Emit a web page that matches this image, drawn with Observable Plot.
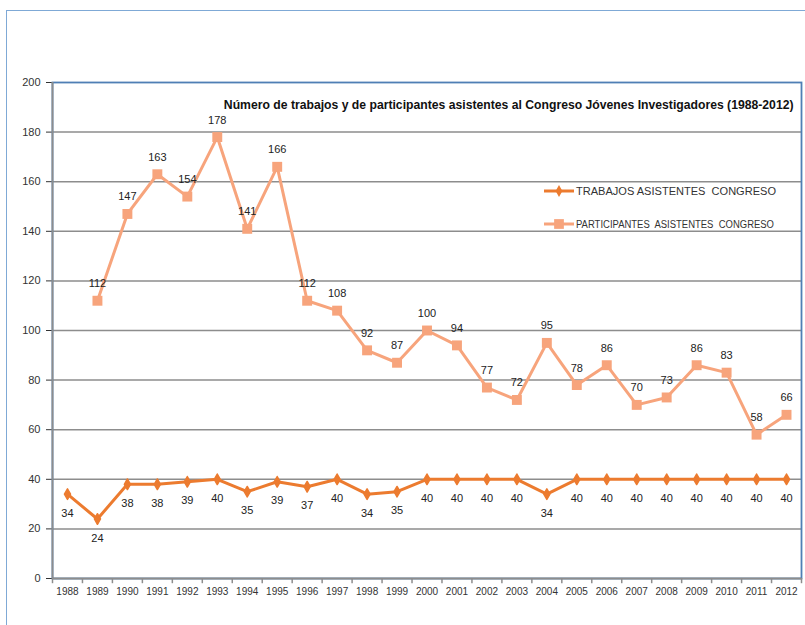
<!DOCTYPE html>
<html>
<head>
<meta charset="utf-8">
<script src="https://cdn.jsdelivr.net/npm/d3@7"></script>
<script src="https://cdn.jsdelivr.net/npm/@observablehq/plot@0.6"></script>
<style>
  html, body { margin: 0; padding: 0; background: #fff; }
  #wrap { position: relative; width: 805px; height: 625px; overflow: hidden; }
  #outer { position: absolute; left: 6px; top: 10px; width: 820px; height: 640px; border: 1.5px solid #7fa9d6; box-sizing: border-box; }
  #chart { position: absolute; left: 0; top: 0; }
  #legend { position: absolute; left: 544px; top: 180px; }
</style>
</head>
<body>
<div id="wrap">
  <div id="outer"></div>
  <div id="chart"></div>
  <div id="legend"></div>
</div>
<script>
const years = [1988, 1989, 1990, 1991, 1992, 1993, 1994, 1995, 1996, 1997, 1998, 1999, 2000,
               2001, 2002, 2003, 2004, 2005, 2006, 2007, 2008, 2009, 2010, 2011, 2012];
const trabajos = [34, 24, 38, 38, 39, 40, 35, 39, 37, 40, 34, 35, 40,
                  40, 40, 40, 34, 40, 40, 40, 40, 40, 40, 40, 40];
const participantes = [null, 112, 147, 163, 154, 178, 141, 166, 112, 108, 92, 87, 100,
                       94, 77, 72, 95, 78, 86, 70, 73, 86, 83, 58, 66];
const yTicks = [0, 20, 40, 60, 80, 100, 120, 140, 160, 180, 200];
const seriesNames = ["TRABAJOS ASISTENTES  CONGRESO", "PARTICIPANTES  ASISTENTES  CONGRESO"];
const title = ["Número de trabajos y de participantes asistentes al Congreso Jóvenes Investigadores (1988-2012)"];

const cTrab = "#ec7b2f";
const cPart = "#f7a47c";
const gridC = "#8d8d8d";

const data = years.map((y, i) => ({year: y, trabajos: trabajos[i], participantes: participantes[i]}));
const boundaries = [years[0] - 0.5, ...years.map(y => y + 0.5)];

const chart = Plot.plot({
  width: 805,
  height: 625,
  marginLeft: 52,
  marginRight: 4,
  marginTop: 82,
  marginBottom: 47,
  style: {fontFamily: "Liberation Sans, Arial, sans-serif", fontSize: "11px", color: "#333", background: "transparent"},
  x: {domain: [years[0] - 0.5, years[years.length - 1] + 0.5], ticks: years, tickFormat: d => String(d), tickSize: 0, tickPadding: 9, label: null},
  y: {domain: [0, 200], ticks: yTicks, tickSize: 6, tickPadding: 6, label: null},
  marks: [
    Plot.ruleY(yTicks.filter(t => t > 0 && t < 200), {stroke: gridC, strokeWidth: 1.5}),
    Plot.frame({stroke: "#4f7fb5", strokeWidth: 1.8}),
    Plot.ruleY([0], {stroke: gridC, strokeWidth: 1.8}),
    Plot.ruleX([boundaries[0]], {stroke: gridC, strokeWidth: 1.8}),
    Plot.ruleX(boundaries, {y1: 0, y2: -2.1, stroke: gridC, strokeWidth: 1.5}),
    Plot.line(data, {x: "year", y: "participantes", stroke: cPart, strokeWidth: 3}),
    Plot.dot(data, {x: "year", y: "participantes", symbol: "square", r: 5.6, fill: cPart}),
    Plot.line(data, {x: "year", y: "trabajos", stroke: cTrab, strokeWidth: 3}),
    Plot.dot(data, {x: "year", y: "trabajos", symbol: "diamond", r: 3.2, fill: cTrab, stroke: cTrab, strokeWidth: 1.5, strokeLinejoin: "round"}),
    Plot.text(data.filter(d => d.participantes != null), {x: "year", y: "participantes", text: d => String(d.participantes), dy: -17, fill: "#222", fontSize: 11}),
    Plot.text(data, {x: "year", y: "trabajos", text: d => String(d.trabajos), dy: 19, fill: "#222", fontSize: 11}),
    Plot.text(title, {frameAnchor: "top-right", text: d => d, dx: -8, dy: 18, fontFamily: "Liberation Sans, Arial, sans-serif", fontWeight: "bold", fontSize: 12.2, fill: "#111"})
  ]
});
chart.querySelectorAll("g[aria-label='x-axis tick label'] text, g[aria-label='x-axis'] text").forEach(t => t.setAttribute("font-size", "10"));
document.getElementById("chart").appendChild(chart);

// legend
const lg = d3.create("svg").attr("width", 250).attr("height", 60)
  .style("font-family", "Liberation Sans, Arial, sans-serif").style("font-size", "10px");
const items = [[cTrab, d3.symbolDiamond, 40, 200], [cPart, d3.symbolSquare, 95, 198]];
items.forEach(([c, sym, sz, len], i) => {
  const y = 11 + i * 33;
  lg.append("line").attr("x1", 0).attr("x2", 30).attr("y1", y).attr("y2", y).attr("stroke", c).attr("stroke-width", 3);
  lg.append("path").attr("transform", `translate(15,${y})`).attr("d", d3.symbol(sym, sz)()).attr("fill", c);
  lg.append("text").attr("x", 32).attr("y", y).attr("dy", "0.35em").attr("fill", "#333")
    .attr("textLength", len).attr("lengthAdjust", "spacingAndGlyphs")
    .style("white-space", "pre").text(seriesNames[i]);
});
document.getElementById("legend").appendChild(lg.node());
</script>
</body>
</html>
